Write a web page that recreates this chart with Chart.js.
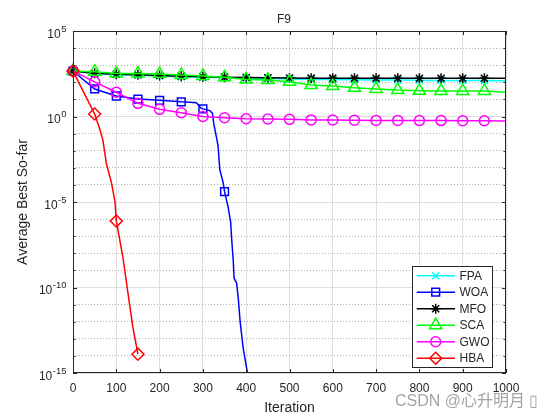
<!DOCTYPE html>
<html>
<head>
<meta charset="utf-8">
<title>F9</title>
<script src="https://cdn.jsdelivr.net/npm/chart.js@4.4.1/dist/chart.umd.min.js"></script>
<style>
  html, body { margin: 0; padding: 0; background: #fff; }
  #wrap { width: 560px; height: 420px; }
</style>
</head>
<body>
<div id="wrap"><canvas id="myChart" width="560" height="420"></canvas></div>
<script>
'use strict';

// Data

const xTicks = [0, 100, 200, 300, 400, 500, 600, 700, 800, 900, 1000];
const yMajorExp = [-15, -10, -5, 0, 5];
const yDecades = [-15, -14, -13, -12, -11, -10, -9, -8, -7, -6, -5, -4, -3, -2, -1, 0, 1, 2, 3, 4, 5];

const stepIter = [0, 50, 100, 150, 200, 250, 300, 350, 400, 450, 500, 550, 600, 650, 700, 750, 800, 850, 900, 950, 1000];

const fpaIter = stepIter;
const fpaVal = [457, 316, 275, 257, 234, 214, 195, 186, 178, 166, 155, 148, 145, 141, 138, 135, 132, 129, 126, 126, 123];

const woaIter = [0, 50, 100, 150, 200, 250, 270, 285, 295, 300, 316, 322, 325, 331, 335, 339, 347, 350, 358, 364, 366, 370, 372, 378, 382, 386, 393, 401, 405];
const woaVal = [457, 40.7, 15.8, 10.5, 8.9, 7.2, 6.8, 6.3, 3.2, 2.8, 2.2, 1.55, 0.4, 0.066, 0.02, 7.9e-4, 1.26e-4, 4e-5, 5.4e-6, 7.1e-7, 9.5e-8, 4.1e-9, 3.5e-10, 1.8e-10, 1.9e-11, 1.0e-12, 2.8e-14, 1.9e-15, 5e-16];

const mfoIter = stepIter;
const mfoVal = [457, 339, 295, 275, 251, 229, 209, 200, 191, 182, 178, 174, 174, 170, 170, 170, 170, 170, 170, 170, 170];

const scaIter = stepIter;
const scaVal = [457, 417, 331, 331, 302, 269, 234, 195, 148, 135, 107, 69, 60, 48, 41, 35, 32, 31, 31, 31, 26];

const gwoIter = [0, 25, 50, 100, 150, 200, 250, 300, 350, 400, 450, 500, 550, 600, 650, 700, 750, 800, 850, 900, 950, 1000];
const gwoVal = [457, 224, 107, 26.3, 5.9, 2.63, 1.66, 1.0, 0.85, 0.74, 0.71, 0.68, 0.63, 0.62, 0.60, 0.59, 0.59, 0.575, 0.575, 0.56, 0.56, 0.54];

const hbaIter = [0, 25, 50, 60, 69, 77, 89, 97, 100, 115, 127, 138, 150];
const hbaVal = [457, 25, 1.41, 0.25, 0.043, 1.8e-3, 1.26e-4, 1.05e-5, 7.8e-7, 6.5e-9, 4.7e-11, 5.1e-13, 1.26e-14];

const seriesNames = ['FPA', 'WOA', 'MFO', 'SCA', 'GWO', 'HBA'];
const seriesIters = [fpaIter, woaIter, mfoIter, scaIter, gwoIter, hbaIter];
const seriesVals = [fpaVal, woaVal, mfoVal, scaVal, gwoVal, hbaVal];

// Styles

const seriesColors = ['#00ffff', '#0000ff', '#000000', '#00ff00', '#ff00ff', '#ff0000'];
const seriesMarkers = ['crossRot', 'rect', 'star', 'triangle', 'circle', 'rectRot'];
const markerSizes = [5, 5.5, 5, 7, 5, 6];

const FONT = '"Liberation Sans", Arial, Helvetica, sans-serif';
const AXIS_COLOR = '#262626';
const Y_MIN = 1e-15;

function isMajorDecade(v) {
  const e = Math.round(Math.log10(v));
  return yMajorExp.includes(e);
}

function drawMarker(ctx, style, radius, color, px, py) {
  ctx.strokeStyle = color;
  ctx.fillStyle = 'rgba(0,0,0,0)';
  ctx.lineWidth = 1.5;
  if (Chart.helpers && Chart.helpers.drawPoint) {
    Chart.helpers.drawPoint(ctx, {pointStyle: style, radius: radius, rotation: 0, borderWidth: 1.5}, px, py);
  }
}

// axes box, inward ticks, labels, legend
const matlabAxes = {
  id: 'matlabAxes',
  afterDraw(chart) {
    const ctx = chart.ctx;
    const area = chart.chartArea;
    const x = chart.scales.x;
    const y = chart.scales.y;
    ctx.save();

    ctx.strokeStyle = AXIS_COLOR;
    ctx.lineWidth = 1;
    ctx.setLineDash([]);
    ctx.strokeRect(area.left + 0.5, area.top + 0.5, area.right - area.left - 1, area.bottom - area.top - 1);

    ctx.beginPath();
    xTicks.forEach(t => {
      const px = Math.round(x.getPixelForValue(t)) + 0.5;
      ctx.moveTo(px, area.bottom);
      ctx.lineTo(px, area.bottom - 4);
      ctx.moveTo(px, area.top);
      ctx.lineTo(px, area.top + 4);
    });
    yDecades.forEach(e => {
      const py = Math.round(y.getPixelForValue(Math.pow(10, e))) + 0.5;
      const len = yMajorExp.includes(e) ? 4 : 2.5;
      ctx.moveTo(area.left, py);
      ctx.lineTo(area.left + len, py);
      ctx.moveTo(area.right, py);
      ctx.lineTo(area.right - len, py);
    });
    ctx.stroke();

    // tick labels
    ctx.fillStyle = AXIS_COLOR;
    ctx.font = '12px ' + FONT;
    ctx.textAlign = 'center';
    ctx.textBaseline = 'alphabetic';
    xTicks.forEach(t => {
      ctx.fillText(String(t), x.getPixelForValue(t), area.bottom + 19);
    });

    ctx.textAlign = 'right';
    yMajorExp.forEach(e => {
      const py = y.getPixelForValue(Math.pow(10, e));
      const expText = String(e);
      ctx.font = '9.5px ' + FONT;
      const ew = ctx.measureText(expText).width;
      ctx.fillText(expText, area.left - 6.5, py + 0.5);
      ctx.font = '12px ' + FONT;
      ctx.fillText('10', area.left - 7 - ew, py + 6.8);
    });

    // title and axis labels
    ctx.textAlign = 'center';
    ctx.font = '12px ' + FONT;
    ctx.fillText('F9', 284, 23.3);
    ctx.font = '14px ' + FONT;
    ctx.fillText('Iteration', (area.left + area.right) / 2, 412);
    ctx.save();
    ctx.translate(26.5, (area.top + area.bottom) / 2);
    ctx.rotate(-Math.PI / 2);
    ctx.fillText('Average Best So-far', 0, 0);
    ctx.restore();

    // legend
    const lx = 412.5, ly = 266.5, lw = 80, lh = 101;
    ctx.fillStyle = '#ffffff';
    ctx.fillRect(lx, ly, lw, lh);
    ctx.strokeStyle = AXIS_COLOR;
    ctx.lineWidth = 1;
    ctx.strokeRect(lx, ly, lw, lh);
    seriesNames.forEach((name, i) => {
      const cy = 275.7 + i * 16.5;
      ctx.strokeStyle = seriesColors[i];
      ctx.lineWidth = 1.5;
      ctx.beginPath();
      ctx.moveTo(416.7, cy);
      ctx.lineTo(455, cy);
      ctx.stroke();
      drawMarker(ctx, seriesMarkers[i], markerSizes[i], seriesColors[i], 435.7, cy);
      ctx.fillStyle = AXIS_COLOR;
      ctx.font = '12px ' + FONT;
      ctx.textAlign = 'left';
      ctx.fillText(name, 459.5, cy + 4.2);
    });

    // watermark
    ctx.fillStyle = 'rgba(140,140,140,0.8)';
    ctx.font = '16px "Liberation Sans", "Noto Sans CJK SC", sans-serif';
    ctx.textAlign = 'left';
    ctx.fillText('CSDN @心升明月 \u25AF', 395, 406);

    ctx.restore();
  }
};

const datasets = seriesNames.map((name, i) => ({
  label: name,
  data: seriesIters[i].map((it, k) => ({x: it, y: seriesVals[i][k]})),
  borderColor: seriesColors[i],
  borderWidth: 1.5,
  pointStyle: seriesMarkers[i],
  pointRadius: (c) => {
    const p = c.raw;
    if (!p) return 0;
    return (p.x % 50 === 0 && p.x < 1000 && p.y >= Y_MIN) ? markerSizes[i] : 0;
  },
  pointBorderColor: seriesColors[i],
  pointBackgroundColor: 'rgba(0,0,0,0)',
  pointBorderWidth: 1.5,
  pointHoverRadius: 0,
  tension: 0,
  fill: false,
  order: seriesNames.length - i,
  clip: {left: 10, top: 10, right: 10, bottom: 0}
}));

const config = {
  type: 'line',
  data: { datasets: datasets },
  options: {
    responsive: false,
    animation: false,
    events: [],
    layout: { padding: { left: 73, top: 31, right: 54, bottom: 47 } },
    plugins: {
      legend: { display: false },
      tooltip: { enabled: false },
      title: { display: false }
    },
    scales: {
      x: {
        type: 'linear',
        min: 0,
        max: 1000,
        afterBuildTicks: (scale) => { scale.ticks = xTicks.map(v => ({value: v})); },
        afterFit: (scale) => { scale.height = 0; },
        ticks: { display: false },
        border: { display: false },
        grid: { color: '#dedede', lineWidth: 1, drawTicks: false }
      },
      y: {
        type: 'logarithmic',
        min: 1e-15,
        max: 1e5,
        afterBuildTicks: (scale) => { scale.ticks = yDecades.map(e => ({value: Math.pow(10, e)})); },
        afterFit: (scale) => { scale.width = 0; },
        ticks: { display: false },
        border: {
          display: false,
          dash: (c) => (c.tick && !isMajorDecade(c.tick.value)) ? [1, 2] : []
        },
        grid: {
          color: (c) => (c.tick && !isMajorDecade(c.tick.value)) ? '#b0b0b0' : '#dedede',
          lineWidth: 1,
          drawTicks: false
        }
      }
    }
  },
  plugins: [matlabAxes]
};

const chart = new Chart(document.getElementById('myChart'), config);
</script>
</body>
</html>
